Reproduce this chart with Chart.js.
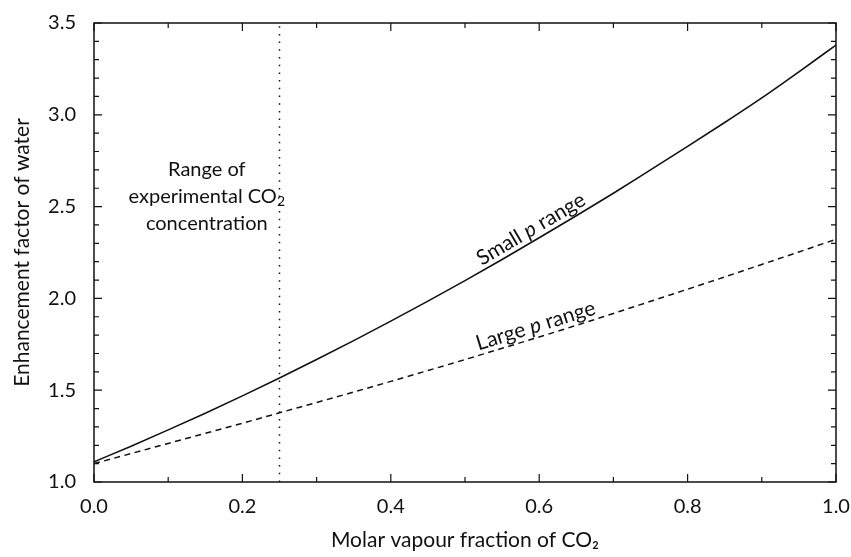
<!DOCTYPE html>
<html>
<head>
<meta charset="utf-8">
<style>
  html, body { margin: 0; padding: 0; background: #fff; }
  #wrap { width: 851px; height: 557px; }
</style>
<script src="https://cdn.jsdelivr.net/npm/chart.js@4/dist/chart.umd.min.js"></script>
</head>
<body>
<div id="wrap"><canvas id="c" width="851" height="557"></canvas></div>
<script>
// Molar vapour fraction of CO2 (x) and enhancement factor of water (y)
const fractions = [0, 0.05, 0.1, 0.15, 0.2, 0.25, 0.3, 0.35, 0.4, 0.45, 0.5,
                   0.55, 0.6, 0.65, 0.7, 0.75, 0.8, 0.85, 0.9, 0.95, 1.0];
const smallPRange = [1.110, 1.195, 1.284, 1.375, 1.469, 1.566, 1.667, 1.770, 1.876, 1.985, 2.097,
                     2.212, 2.330, 2.450, 2.573, 2.700, 2.828, 2.958, 3.092, 3.234, 3.380];
const largePRange = [1.100, 1.155, 1.210, 1.265, 1.320, 1.377, 1.433, 1.490, 1.548, 1.607, 1.667,
                     1.728, 1.790, 1.853, 1.918, 1.984, 2.050, 2.117, 2.185, 2.253, 2.322];

// Upper limit of the experimental CO2 concentration
const experimentalLimit = 0.25;

// Axis ticks
const xTickValues = [0.0, 0.2, 0.4, 0.6, 0.8, 1.0];
const xMinorValues = [0.1, 0.3, 0.5, 0.7, 0.9];
const yTickValues = [1.0, 1.5, 2.0, 2.5, 3.0, 3.5];
const yMinorValues = [1.1, 1.2, 1.3, 1.4, 1.6, 1.7, 1.8, 1.9, 2.1, 2.2, 2.3, 2.4,
                      2.6, 2.7, 2.8, 2.9, 3.1, 3.2, 3.3, 3.4];

const FONT = 'Lato, "Open Sans", sans-serif';
const INK = '#111';

const toPoints = (xs, ys) => xs.map((x, i) => ({ x, y: ys[i] }));

// Frame, inward ticks on all four sides and the text annotations
const decorations = {
  id: 'decorations',
  afterDatasetsDraw(chart) {
    const { ctx, chartArea: a, scales: { x, y } } = chart;
    ctx.save();
    ctx.strokeStyle = INK;
    ctx.lineWidth = 1.5;
    ctx.strokeRect(a.left, a.top, a.right - a.left, a.bottom - a.top);

    ctx.lineWidth = 1.2;
    const xTick = (v, len) => {
      const px = x.getPixelForValue(v);
      ctx.beginPath();
      ctx.moveTo(px, a.bottom); ctx.lineTo(px, a.bottom - len);
      ctx.moveTo(px, a.top); ctx.lineTo(px, a.top + len);
      ctx.stroke();
    };
    const yTick = (v, len) => {
      const py = y.getPixelForValue(v);
      ctx.beginPath();
      ctx.moveTo(a.left, py); ctx.lineTo(a.left + len, py);
      ctx.moveTo(a.right, py); ctx.lineTo(a.right - len, py);
      ctx.stroke();
    };
    xTickValues.forEach(v => xTick(v, 8));
    xMinorValues.forEach(v => xTick(v, 5));
    yTickValues.forEach(v => yTick(v, 8));
    yMinorValues.forEach(v => yTick(v, 5));

    ctx.fillStyle = INK;

    // Three-line note left of the dotted line
    const size = 20;
    const cx = x.getPixelForValue(0.152);
    const cy = y.getPixelForValue(2.553);
    ctx.textBaseline = 'middle';
    ctx.textAlign = 'center';
    ctx.font = `${size}px ${FONT}`;
    ctx.fillText('Range of', cx, cy - 27);
    ctx.fillText('concentration', cx, cy + 27);
    // "experimental CO" with a subscript 2
    const main = 'experimental CO';
    ctx.font = `${size}px ${FONT}`;
    const wMain = ctx.measureText(main).width;
    ctx.font = `${Math.round(size * 0.68)}px ${FONT}`;
    const wSub = ctx.measureText('2').width;
    const start = cx - (wMain + wSub) / 2;
    ctx.textAlign = 'left';
    ctx.font = `${size}px ${FONT}`;
    ctx.fillText(main, start, cy);
    ctx.font = `${Math.round(size * 0.68)}px ${FONT}`;
    ctx.fillText('2', start + wMain, cy + 5);

    // Labels laid along each curve, with an italic p
    const labelSize = 21;
    const curveLabel = (xs, ys, i0, i1, ax, ay, prefix, lift) => {
      const p0x = x.getPixelForValue(xs[i0]), p0y = y.getPixelForValue(ys[i0]);
      const p1x = x.getPixelForValue(xs[i1]), p1y = y.getPixelForValue(ys[i1]);
      const ang = Math.atan2(p1y - p0y, p1x - p0x);
      const parts = [
        { t: prefix + ' ', f: `${labelSize}px ${FONT}` },
        { t: 'p', f: `italic ${labelSize}px ${FONT}` },
        { t: ' range', f: `${labelSize}px ${FONT}` }
      ];
      let total = 0;
      parts.forEach(p => { ctx.font = p.f; p.w = ctx.measureText(p.t).width; total += p.w; });
      ctx.save();
      ctx.translate(x.getPixelForValue(ax), y.getPixelForValue(ay));
      ctx.rotate(ang);
      ctx.textAlign = 'left';
      ctx.textBaseline = 'alphabetic';
      let pos = -total / 2;
      parts.forEach(p => { ctx.font = p.f; ctx.fillText(p.t, pos, -lift); pos += p.w; });
      ctx.restore();
    };
    curveLabel(fractions, smallPRange, 11, 13, 0.597, 2.322, 'Small', 5);
    curveLabel(fractions, largePRange, 11, 13, 0.600, 1.790, 'Large', 5);
    ctx.restore();
  }
};

new Chart(document.getElementById('c'), {
  type: 'scatter',
  data: {
    datasets: [
      {
        label: 'Small p range',
        data: toPoints(fractions, smallPRange),
        showLine: true,
        borderColor: INK,
        borderWidth: 1.6,
        pointRadius: 0,
        cubicInterpolationMode: 'monotone'
      },
      {
        label: 'Large p range',
        data: toPoints(fractions, largePRange),
        showLine: true,
        borderColor: INK,
        borderWidth: 1.5,
        borderDash: [6, 4.5],
        pointRadius: 0,
        cubicInterpolationMode: 'monotone'
      },
      {
        label: 'Experimental range',
        data: [{ x: experimentalLimit, y: yTickValues[0] },
               { x: experimentalLimit, y: yTickValues[yTickValues.length - 1] }],
        showLine: true,
        borderColor: INK,
        borderWidth: 1.5,
        borderDash: [1.5, 6.2],
        pointRadius: 0
      }
    ]
  },
  options: {
    responsive: false,
    animation: false,
    devicePixelRatio: 1,
    layout: { padding: { left: 0, right: 15, top: 23, bottom: 0 } },
    plugins: { legend: { display: false }, tooltip: { enabled: false } },
    scales: {
      x: {
        type: 'linear',
        min: 0, max: 1,
        afterBuildTicks: s => { s.ticks = xTickValues.map(v => ({ value: v })); },
        afterFit: s => { s.height = 75; s.paddingLeft = 0; s.paddingRight = 0; },
        grid: { display: false, drawTicks: false },
        border: { display: false },
        ticks: {
          color: INK,
          padding: 13,
          font: { family: FONT, size: 20 },
          callback: v => Number(v).toFixed(1)
        },
        title: {
          display: true,
          text: 'Molar vapour fraction of CO₂',
          color: INK,
          font: { family: FONT, size: 21 },
          padding: { top: 0, bottom: 4 }
        }
      },
      y: {
        type: 'linear',
        min: 1, max: 3.5,
        afterBuildTicks: s => { s.ticks = yTickValues.map(v => ({ value: v })); },
        afterFit: s => { s.width = 94; s.paddingTop = 0; s.paddingBottom = 0; },
        grid: { display: false, drawTicks: false },
        border: { display: false },
        ticks: {
          color: INK,
          padding: 18,
          font: { family: FONT, size: 20 },
          callback: v => Number(v).toFixed(1)
        },
        title: {
          display: true,
          text: 'Enhancement factor of water',
          color: INK,
          font: { family: FONT, size: 21 },
          padding: { top: 10, bottom: 0 }
        }
      }
    }
  },
  plugins: [decorations]
});
</script>
</body>
</html>
